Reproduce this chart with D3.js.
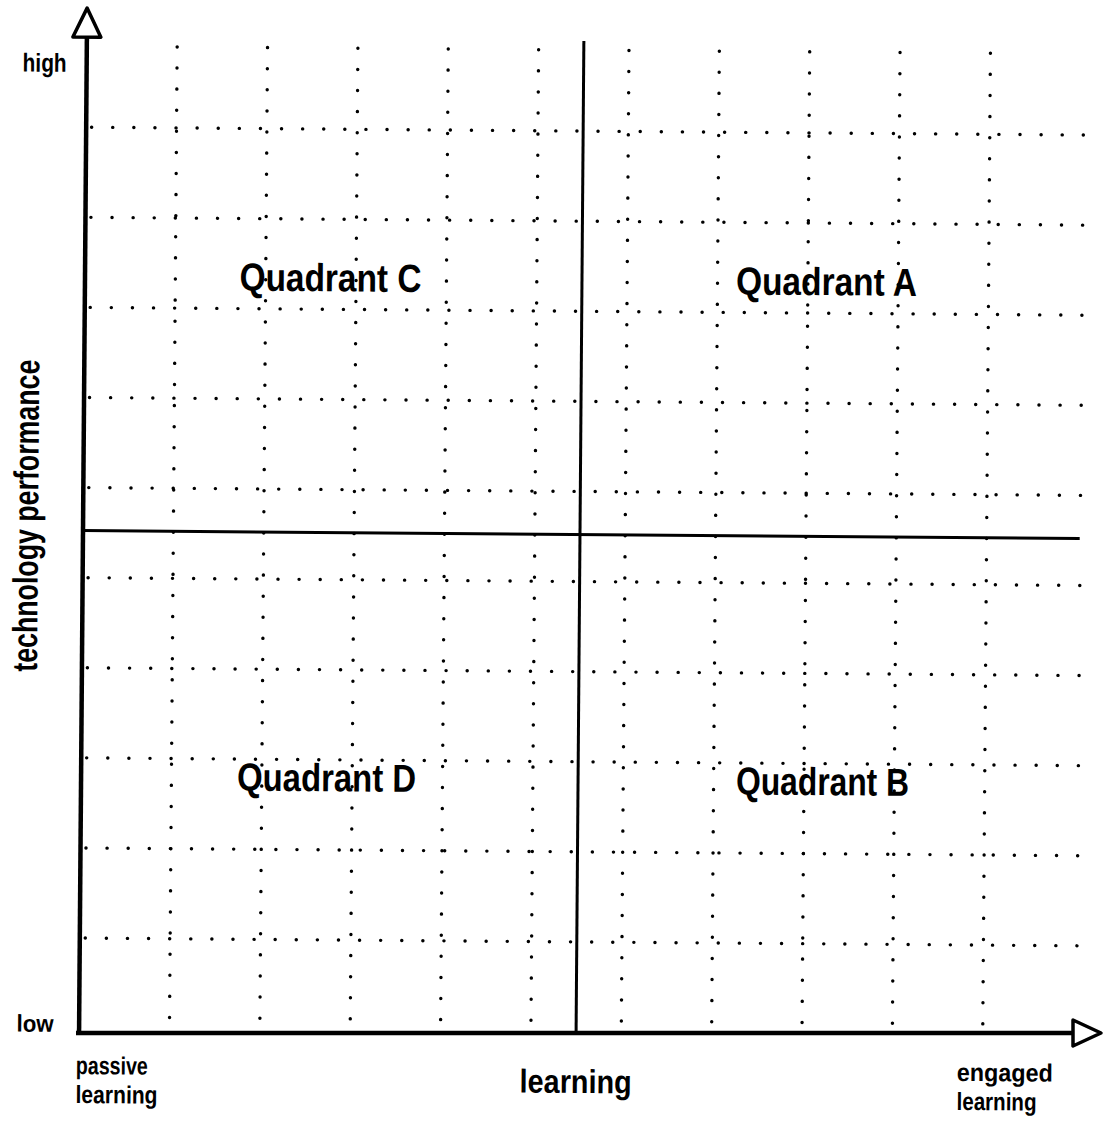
<!DOCTYPE html>
<html>
<head>
<meta charset="utf-8">
<script src="https://cdn.jsdelivr.net/npm/d3@7/dist/d3.min.js"></script>
<style>
  html, body { margin: 0; padding: 0; background: #fff; }
  svg { display: block; }
  text { font-family: "Liberation Sans", Arial, sans-serif; font-weight: bold; fill: #000; }
</style>
</head>
<body>
<script>
// ---- data ----
const gridX = [1, 2, 3, 4, 5, 6, 7, 8, 9, 10];          // dotted column positions (learning units)
const gridY = [1, 2, 3, 4, 5, 6, 7, 8, 9, 10];          // dotted row positions (performance units)
const axisDomain = [0, 11];
const splitValue = 5.5;                                  // quadrant divider
const quadrantNames = ["Quadrant C", "Quadrant A", "Quadrant D", "Quadrant B"];
const quadrantLearning = ["passive", "engaged", "passive", "engaged"];
const quadrantTech = ["high", "high", "low", "low"];
const yTickLabels = ["low", "high"];
const xEndLabels = [["passive", "learning"], ["engaged", "learning"]];
const xTitle = "learning";
const yTitle = "technology performance";

// ---- layout ----
const W = 1104, H = 1125;
const svg = d3.select("body").append("svg").attr("width", W).attr("height", H);
svg.append("rect").attr("width", W).attr("height", H).attr("fill", "#fff");
const g = svg.append("g").attr("transform", "rotate(0.45,580,533)");

const x = d3.scaleLinear().domain(axisDomain).range([83, 1077]);
const y = d3.scaleLinear().domain(axisDomain).range([1032, 41]);

// dotted grid
const dotStyle = sel => sel.attr("stroke", "#000").attr("stroke-width", 3.4)
  .attr("stroke-linecap", "round").attr("stroke-dasharray", "0.1 21").attr("fill", "none");

g.selectAll("line.col").data(gridX).join("line").attr("class", "col")
  .attr("x1", d => x(d)).attr("x2", d => x(d))
  .attr("y1", y(10.9)).attr("y2", y(0.05))
  .call(dotStyle);

g.selectAll("line.row").data(gridY).join("line").attr("class", "row")
  .attr("y1", d => y(d)).attr("y2", d => y(d))
  .attr("x1", x(0.06)).attr("x2", x(11.1))
  .call(dotStyle);

// quadrant dividers
g.append("line").attr("x1", x(splitValue)).attr("x2", x(splitValue))
  .attr("y1", y(11)).attr("y2", y(0))
  .attr("stroke", "#000").attr("stroke-width", 3);
g.append("line").attr("x1", x(0)).attr("x2", x(11.03))
  .attr("y1", y(splitValue) - 2).attr("y2", y(splitValue) - 2)
  .attr("stroke", "#000").attr("stroke-width", 3);

// vertical axis (rotated with scan)
g.append("line").attr("x1", x(0)).attr("x2", x(0))
  .attr("y1", y(11)).attr("y2", y(0) + 6)
  .attr("stroke", "#000").attr("stroke-width", 4.5);
const ax0 = x(0), ay11 = y(11);
g.append("path")
  .attr("d", `M${ax0 - 14},${ay11} L${ax0},${ay11 - 29} L${ax0 + 14},${ay11} Z`)
  .attr("fill", "#fff").attr("stroke", "#000").attr("stroke-width", 3.5).attr("stroke-linejoin", "round");

// horizontal axis (straight)
const baseY = 1033;
svg.append("line").attr("x1", 76).attr("x2", x(11) - 4)
  .attr("y1", baseY).attr("y2", baseY)
  .attr("stroke", "#000").attr("stroke-width", 4.5);
const ax11 = x(11) - 4;
svg.append("path")
  .attr("d", `M${ax11},${baseY - 13} L${ax11 + 28},${baseY} L${ax11},${baseY + 13} Z`)
  .attr("fill", "#fff").attr("stroke", "#000").attr("stroke-width", 3.5).attr("stroke-linejoin", "round");

// y tick labels
g.append("text").text(yTickLabels[1]).attr("x", 41).attr("y", 76)
  .attr("text-anchor", "middle").attr("font-size", 26)
  .attr("textLength", 44).attr("lengthAdjust", "spacingAndGlyphs");
g.append("text").text(yTickLabels[0]).attr("x", 39).attr("y", y(0) + 4)
  .attr("text-anchor", "middle").attr("font-size", 24)
  .attr("textLength", 37).attr("lengthAdjust", "spacingAndGlyphs");

// x end labels
const endPos = [{x: 80, lens: [72, 82]}, {x: 961, lens: [96, 80]}];
xEndLabels.forEach((lines, i) => {
  lines.forEach((t, j) => {
    g.append("text").text(t).attr("x", endPos[i].x).attr("y", 1078 + j * 29)
      .attr("font-size", 25)
      .attr("textLength", endPos[i].lens[j]).attr("lengthAdjust", "spacingAndGlyphs");
  });
});

// axis titles
g.append("text").text(xTitle).attr("x", x(splitValue)).attr("y", 1093)
  .attr("text-anchor", "middle").attr("font-size", 33)
  .attr("textLength", 112).attr("lengthAdjust", "spacingAndGlyphs");
g.append("text").text(yTitle)
  .attr("transform", `translate(38,520) rotate(-90)`)
  .attr("text-anchor", "middle").attr("font-size", 35)
  .attr("textLength", 312).attr("lengthAdjust", "spacingAndGlyphs");

// quadrant labels
const qWidths = [182, 181, 179, 173];
quadrantNames.forEach((name, i) => {
  const cx = quadrantLearning[i] === "passive" ? x(splitValue / 2) - 3 : x((splitValue + 11) / 2) - 4;
  const cy = quadrantTech[i] === "high" ? y(8.35) : y(2.8);
  g.append("text").text(name).attr("x", cx).attr("y", cy)
    .attr("text-anchor", "middle").attr("dominant-baseline", "central")
    .attr("font-size", 39)
    .attr("textLength", qWidths[i]).attr("lengthAdjust", "spacingAndGlyphs");
});
</script>
</body>
</html>
